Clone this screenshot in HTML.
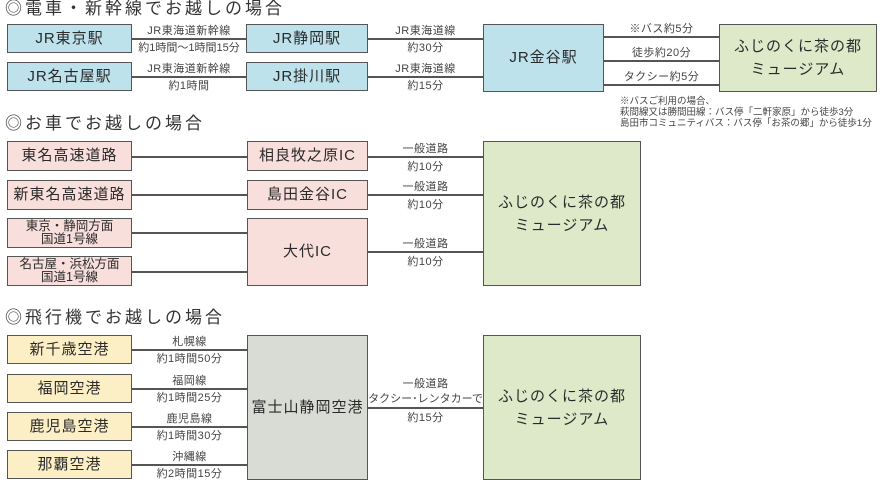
<!DOCTYPE html>
<html><head><meta charset="utf-8"><style>
*{margin:0;padding:0;box-sizing:border-box}
body{width:884px;height:485px;background:#fff;position:relative;overflow:hidden;font-family:"Liberation Sans","Noto Sans CJK JP",sans-serif;color:#333}
.h{position:absolute;left:5px;font-size:17px;letter-spacing:3px;color:#333;white-space:nowrap;line-height:20px}
.b{position:absolute;border:1.5px solid #555;display:flex;align-items:center;justify-content:center;text-align:center;font-size:15px;letter-spacing:1px;line-height:16px;color:#2a2a2a}
.bl{background:#bde2ec}.gr{background:#dde9c9}.pk{background:#f8dfdc}.yl{background:#fcefc6}.gy{background:#d8dcd5}
.l{position:absolute;height:1.5px;background:#555}
.t{position:absolute;font-size:11px;color:#444;text-align:center;white-space:nowrap;line-height:12px;letter-spacing:0.5px}
.n{position:absolute;font-size:9.5px;color:#444;line-height:11px;white-space:nowrap}
</style></head><body>
<div class="h" style="top:-1px">◎電車・新幹線でお越しの場合</div>
<div class="b bl" style="left:7px;top:24px;width:125px;height:29px">JR東京駅</div>
<div class="b bl" style="left:7px;top:62px;width:125px;height:29px">JR名古屋駅</div>
<div class="b bl" style="left:246px;top:24px;width:122px;height:29px">JR静岡駅</div>
<div class="b bl" style="left:246px;top:62px;width:122px;height:29px">JR掛川駅</div>
<div class="b bl" style="left:483px;top:24px;width:121px;height:68px">JR金谷駅</div>
<div class="b gr" style="left:719px;top:24px;width:158px;height:68px;line-height:23px">ふじのくに茶の都<br>ミュージアム</div>
<div class="l" style="left:132px;top:38px;width:114px"></div>
<div class="l" style="left:132px;top:76px;width:114px"></div>
<div class="l" style="left:368px;top:38px;width:115px"></div>
<div class="l" style="left:368px;top:76px;width:115px"></div>
<div class="l" style="left:604px;top:36px;width:115px"></div>
<div class="l" style="left:604px;top:60px;width:115px"></div>
<div class="l" style="left:604px;top:84px;width:115px"></div>
<div class="t" style="left:132px;top:25px;width:114px">JR東海道新幹線</div>
<div class="t" style="left:130px;top:42px;width:118px;letter-spacing:0">約1時間〜1時間15分</div>
<div class="t" style="left:132px;top:63px;width:114px">JR東海道新幹線</div>
<div class="t" style="left:132px;top:80px;width:114px">約1時間</div>
<div class="t" style="left:368px;top:25px;width:115px">JR東海道線</div>
<div class="t" style="left:368px;top:42px;width:115px">約30分</div>
<div class="t" style="left:368px;top:63px;width:115px">JR東海道線</div>
<div class="t" style="left:368px;top:80px;width:115px">約15分</div>
<div class="t" style="left:604px;top:23px;width:115px">※バス約5分</div>
<div class="t" style="left:604px;top:47px;width:115px">徒歩約20分</div>
<div class="t" style="left:604px;top:71px;width:115px">タクシー約5分</div>
<div class="n" style="left:620px;top:96px">※バスご利用の場合、</div>
<div class="n" style="left:620px;top:107px">萩間線又は勝間田線：バス停「二軒家原」から徒歩3分</div>
<div class="n" style="left:620px;top:118px">島田市コミュニティバス：バス停「お茶の郷」から徒歩1分</div>

<div class="h" style="top:114px">◎お車でお越しの場合</div>
<div class="b pk" style="left:7px;top:141px;width:125px;height:30px">東名高速道路</div>
<div class="b pk" style="left:7px;top:180px;width:125px;height:30px">新東名高速道路</div>
<div class="b pk" style="left:7px;top:218px;width:125px;height:30px;font-size:12.5px;line-height:13px;letter-spacing:0">東京・静岡方面<br>国道1号線</div>
<div class="b pk" style="left:7px;top:256px;width:125px;height:30px;font-size:12.5px;line-height:13px;letter-spacing:0">名古屋・浜松方面<br>国道1号線</div>
<div class="b pk" style="left:247px;top:141px;width:121px;height:30px">相良牧之原IC</div>
<div class="b pk" style="left:247px;top:180px;width:121px;height:30px">島田金谷IC</div>
<div class="b pk" style="left:247px;top:218px;width:121px;height:68px">大代IC</div>
<div class="b gr" style="left:483px;top:141px;width:158px;height:145px;line-height:23px">ふじのくに茶の都<br>ミュージアム</div>
<div class="l" style="left:132px;top:156px;width:115px"></div>
<div class="l" style="left:132px;top:194px;width:115px"></div>
<div class="l" style="left:132px;top:232px;width:115px"></div>
<div class="l" style="left:132px;top:271px;width:115px"></div>
<div class="l" style="left:368px;top:156px;width:115px"></div>
<div class="l" style="left:368px;top:194px;width:115px"></div>
<div class="l" style="left:368px;top:251px;width:115px"></div>
<div class="t" style="left:368px;top:143px;width:115px">一般道路</div>
<div class="t" style="left:368px;top:161px;width:115px">約10分</div>
<div class="t" style="left:368px;top:181px;width:115px">一般道路</div>
<div class="t" style="left:368px;top:199px;width:115px">約10分</div>
<div class="t" style="left:368px;top:238px;width:115px">一般道路</div>
<div class="t" style="left:368px;top:256px;width:115px">約10分</div>

<div class="h" style="top:308px">◎飛行機でお越しの場合</div>
<div class="b yl" style="left:7px;top:335px;width:125px;height:29px">新千歳空港</div>
<div class="b yl" style="left:7px;top:374px;width:125px;height:29px">福岡空港</div>
<div class="b yl" style="left:7px;top:412px;width:125px;height:29px">鹿児島空港</div>
<div class="b yl" style="left:7px;top:450px;width:125px;height:29px">那覇空港</div>
<div class="b gy" style="left:247px;top:335px;width:121px;height:145px">富士山静岡空港</div>
<div class="b gr" style="left:483px;top:335px;width:158px;height:145px;line-height:23px">ふじのくに茶の都<br>ミュージアム</div>
<div class="l" style="left:132px;top:349px;width:115px"></div>
<div class="l" style="left:132px;top:388px;width:115px"></div>
<div class="l" style="left:132px;top:426px;width:115px"></div>
<div class="l" style="left:132px;top:464px;width:115px"></div>
<div class="l" style="left:368px;top:407px;width:115px"></div>
<div class="t" style="left:132px;top:336px;width:115px">札幌線</div>
<div class="t" style="left:132px;top:353px;width:115px">約1時間50分</div>
<div class="t" style="left:132px;top:375px;width:115px">福岡線</div>
<div class="t" style="left:132px;top:392px;width:115px">約1時間25分</div>
<div class="t" style="left:132px;top:413px;width:115px">鹿児島線</div>
<div class="t" style="left:132px;top:430px;width:115px">約1時間30分</div>
<div class="t" style="left:132px;top:451px;width:115px">沖縄線</div>
<div class="t" style="left:132px;top:468px;width:115px">約2時間15分</div>
<div class="t" style="left:368px;top:378px;width:115px">一般道路</div>
<div class="t" style="left:366px;top:393px;width:119px;letter-spacing:0">タクシー･レンタカーで</div>
<div class="t" style="left:368px;top:412px;width:115px">約15分</div>
</body></html>
